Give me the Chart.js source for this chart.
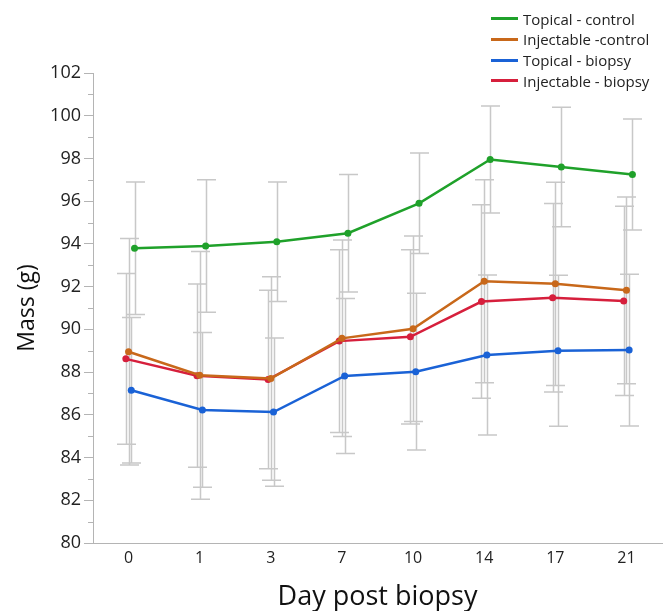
<!DOCTYPE html>
<html>
<head>
<meta charset="utf-8">
<script src="https://cdn.jsdelivr.net/npm/chart.js@4"></script>
<style>
  html, body { margin: 0; padding: 0; background: #fff; }
  #wrap { position: relative; width: 666px; height: 611px; }
  #legend { position: absolute; left: 491px; top: 8.5px; font-family: "Open Sans", sans-serif; font-size: 15px; color: #222; }
  .row { height: 20.7px; line-height: 20.7px; white-space: nowrap; display: flex; align-items: center; }
  .sw { display: inline-block; width: 27px; height: 3px; margin-right: 5px; }
</style>
</head>
<body>
<div id="wrap">
  <canvas id="c" width="666" height="611"></canvas>
  <div id="legend"></div>
</div>
<script>
const categories = ["0", "1", "3", "7", "10", "14", "17", "21"];

const topicalControl     = [93.8, 93.9, 94.1, 94.5, 95.9, 97.95, 97.6, 97.25];
const topicalControlSD   = [3.1, 3.1, 2.8, 2.75, 2.35, 2.5, 2.8, 2.6];

const injectableControl   = [88.95, 87.85, 87.7, 89.58, 90.03, 92.25, 92.13, 91.83];
const injectableControlSD = [5.3, 5.8, 4.76, 4.6, 4.34, 4.75, 4.76, 4.37];

const topicalBiopsy     = [87.15, 86.23, 86.13, 87.82, 88.02, 88.8, 89.0, 89.03];
const topicalBiopsySD   = [3.41, 3.62, 3.47, 3.63, 3.67, 3.75, 3.53, 3.55];

const injectableBiopsy   = [88.62, 87.83, 87.65, 89.45, 89.65, 91.3, 91.48, 91.33];
const injectableBiopsySD = [4.0, 4.29, 4.18, 4.28, 4.08, 4.53, 4.41, 4.43];

const seriesNames = ["Topical - control", "Injectable -control", "Topical - biopsy", "Injectable - biopsy"];

const FONT = '"Open Sans", sans-serif';
const colors = ['#1fa12a', '#c8681a', '#1a62d6', '#d61f3c'];
const shifts = [0.084, 0.0, 0.038, -0.038];
const means = [topicalControl, injectableControl, topicalBiopsy, injectableBiopsy];
const sds = [topicalControlSD, injectableControlSD, topicalBiopsySD, injectableBiopsySD];

const datasets = seriesNames.map((name, k) => ({
  label: name,
  data: means[k].map((v, i) => ({ x: i + shifts[k], y: v })),
  sd: sds[k],
  borderColor: colors[k],
  backgroundColor: colors[k],
  borderWidth: 2.5,
  pointRadius: 3.5,
  pointHoverRadius: 3.5,
  pointBorderWidth: 0,
  tension: 0
}));

const errorBars = {
  id: 'errorBars',
  beforeDatasetsDraw(chart) {
    const { ctx, scales: { x, y } } = chart;
    ctx.save();
    ctx.strokeStyle = '#c8c8c8';
    ctx.lineWidth = 1.5;
    chart.data.datasets.forEach(ds => {
      ds.data.forEach((p, i) => {
        const sd = ds.sd[i];
        const px = Math.round(x.getPixelForValue(p.x)) + 0.5;
        const top = y.getPixelForValue(p.y + sd);
        const bot = y.getPixelForValue(p.y - sd);
        ctx.beginPath();
        ctx.moveTo(px, top); ctx.lineTo(px, bot);
        ctx.moveTo(px - 9.5, top); ctx.lineTo(px + 9.5, top);
        ctx.moveTo(px - 9.5, bot); ctx.lineTo(px + 9.5, bot);
        ctx.stroke();
      });
    });
    ctx.restore();
  }
};

const minorTicks = {
  id: 'minorTicks',
  afterDraw(chart) {
    const { ctx, scales: { y }, chartArea } = chart;
    ctx.save();
    ctx.strokeStyle = '#b4b4b4';
    ctx.lineWidth = 1;
    for (let v = y.min + 1; v < y.max; v += 2) {
      const py = Math.round(y.getPixelForValue(v)) + 0.5;
      ctx.beginPath();
      ctx.moveTo(chartArea.left - 5, py);
      ctx.lineTo(chartArea.left, py);
      ctx.stroke();
    }
    ctx.restore();
  }
};

new Chart(document.getElementById('c'), {
  type: 'line',
  data: { datasets },
  plugins: [errorBars, minorTicks],
  options: {
    responsive: false,
    animation: false,
    layout: { padding: { top: 73, right: 4, left: 0, bottom: 0 } },
    plugins: { legend: { display: false }, tooltip: { enabled: false } },
    scales: {
      x: {
        type: 'linear',
        min: -0.5,
        max: 7.5,
        afterBuildTicks: s => { s.ticks = categories.map((c, i) => ({ value: i })); },
        afterFit: s => { s.height = 68; },
        grid: { display: true, drawOnChartArea: false, drawTicks: false, color: '#b4b4b4' },
        border: { display: true, color: '#b4b4b4', width: 1 },
        ticks: {
          padding: 6,
          color: '#222',
          font: { family: FONT, size: 16 },
          callback: (v) => categories[Math.round(v)] ?? ''
        },
        title: {
          display: true,
          text: 'Day post biopsy',
          color: '#111',
          font: { family: FONT, size: 27 },
          padding: { top: 0, bottom: -3 }
        }
      },
      y: {
        min: 80,
        max: 102,
        afterFit: s => { s.width = 93; },
        afterBuildTicks: s => { const t = []; for (let v = 80; v <= 102; v += 2) t.push({ value: v }); s.ticks = t; },
        grid: { display: true, drawOnChartArea: false, drawTicks: true, tickLength: 9, color: '#b4b4b4' },
        border: { display: true, color: '#b4b4b4', width: 1 },
        ticks: {
          padding: 3,
          color: '#222',
          font: { family: FONT, size: 18 }
        },
        title: {
          display: true,
          text: 'Mass (g)',
          color: '#111',
          font: { family: FONT, size: 23 },
          padding: { top: 14, bottom: 0 }
        }
      }
    }
  }
});

const legend = document.getElementById('legend');
seriesNames.forEach((name, k) => {
  const row = document.createElement('div');
  row.className = 'row';
  const sw = document.createElement('span');
  sw.className = 'sw';
  sw.style.background = colors[k];
  const tx = document.createElement('span');
  tx.textContent = name;
  row.appendChild(sw); row.appendChild(tx);
  legend.appendChild(row);
});
</script>
</body>
</html>
